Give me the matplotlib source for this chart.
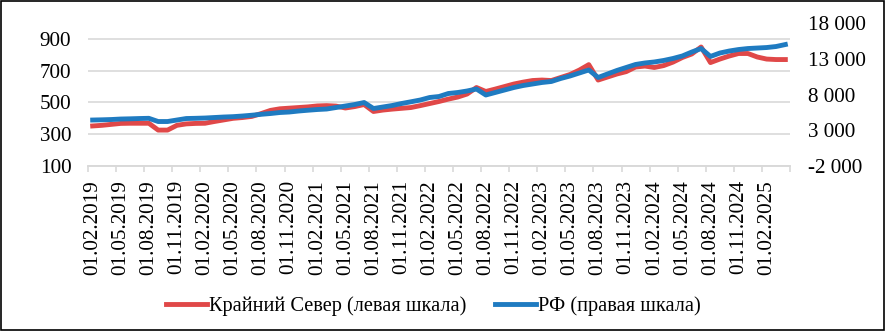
import matplotlib
matplotlib.use("Agg")
import matplotlib.pyplot as plt
from matplotlib.ticker import FuncFormatter, FixedLocator
import pandas as pd

# monthly series, Feb 2019 - Apr 2025
months = pd.date_range("2019-02-01", periods=75, freq="MS")
month_labels = [d.strftime("%d.%m.%Y") for d in months]

# Крайний Север (left scale)
north = [352, 356, 362, 368, 369, 369, 369, 326, 326, 356,
         365, 368, 369, 380, 390, 400, 405, 412, 430, 450,
         460, 464, 468, 472, 478, 480, 477, 465, 474, 487,
         443, 452, 458, 463, 468, 480, 493, 506, 521, 534,
         553, 594, 569, 584, 600, 616, 628, 638, 641, 638,
         657, 676, 704, 738, 641, 660, 679, 694, 723, 729,
         720, 732, 754, 783, 805, 849, 751, 773, 792, 808,
         808, 786, 773, 770, 770]

# РФ (right scale)
russia = [4430, 4460, 4500, 4570, 4600, 4640, 4670, 4220, 4220, 4430,
          4640, 4670, 4710, 4780, 4850, 4900, 4990, 5100, 5230, 5340,
          5480, 5550, 5690, 5800, 5900, 5970, 6180, 6390, 6600, 6880,
          6040, 6250, 6460, 6740, 6980, 7230, 7580, 7720, 8140, 8280,
          8490, 8770, 7930, 8280, 8630, 8980, 9260, 9470, 9680, 9820,
          10240, 10590, 11010, 11430, 10380, 10870, 11360, 11780, 12200, 12410,
          12550, 12760, 13040, 13390, 13940, 14430, 13320, 13800, 14080, 14290,
          14430, 14500, 14570, 14710, 14990]

left_ticks = [100, 300, 500, 700, 900]
right_ticks = [-2000, 3000, 8000, 13000, 18000]

plt.rcParams["font.family"] = ["Liberation Serif", "DejaVu Serif"]
grey = "#D9D9D9"
red = "#E04848"
blue = "#1F7BC1"
fs = 15.2

fig = plt.figure(figsize=(8.85, 3.31), dpi=100)
ax = fig.add_axes([0.0994, 0.4985, 0.7933, 0.432])
ax2 = ax.twinx()

x = list(range(len(months)))
l1, = ax.plot(x, north, color=red, lw=3.5, solid_joinstyle="round", zorder=3)
l2, = ax2.plot(x, russia, color=blue, lw=3.5, solid_joinstyle="round", zorder=3)

ax.set_ylim(100, 1000)
ax2.set_ylim(-2000, 18000)
ax.set_xlim(-0.5, len(months) - 0.5)

ax.set_yticks(left_ticks)
ax2.set_yticks(right_ticks)
ax2.yaxis.set_major_formatter(FuncFormatter(lambda v, p: f"{int(v):,}".replace(",", " ")))
ax.yaxis.grid(True, color=grey, lw=1.2)
ax.set_axisbelow(True)

# labels on every third month, tick marks between categories
label_pos = x[::3]
ax.set_xticks(label_pos)
ax.set_xticklabels([month_labels[i] for i in label_pos], rotation=90)
ax.xaxis.set_minor_locator(FixedLocator([i - 0.5 for i in range(0, len(months) + 1, 3)]))
ax.tick_params(axis="x", which="major", length=0, pad=10, labelsize=fs)
ax.tick_params(axis="x", which="minor", length=4, color=grey, width=1.2)
ax.tick_params(axis="y", length=0, pad=12, labelsize=fs)
ax2.tick_params(axis="y", length=0, pad=13, labelsize=fs)

for a in (ax, ax2):
    for s in ("top", "left", "right"):
        a.spines[s].set_visible(False)
    a.spines["bottom"].set_color(grey)
    a.spines["bottom"].set_linewidth(1.2)

fig.legend([l1, l2], ["Крайний Север (левая шкала)", "РФ (правая шкала)"],
           loc="center", bbox_to_anchor=(0.49, 0.076), ncol=2, frameon=False,
           fontsize=14.7, handlelength=2.0, handletextpad=0.1, columnspacing=1.4)

# thin frame around the whole figure
fig.patches.append(plt.Rectangle((0.001, 0.002), 0.998, 0.996, transform=fig.transFigure,
                                 fill=False, edgecolor="black", lw=1.2))

fig.savefig("out.png", dpi=100)
